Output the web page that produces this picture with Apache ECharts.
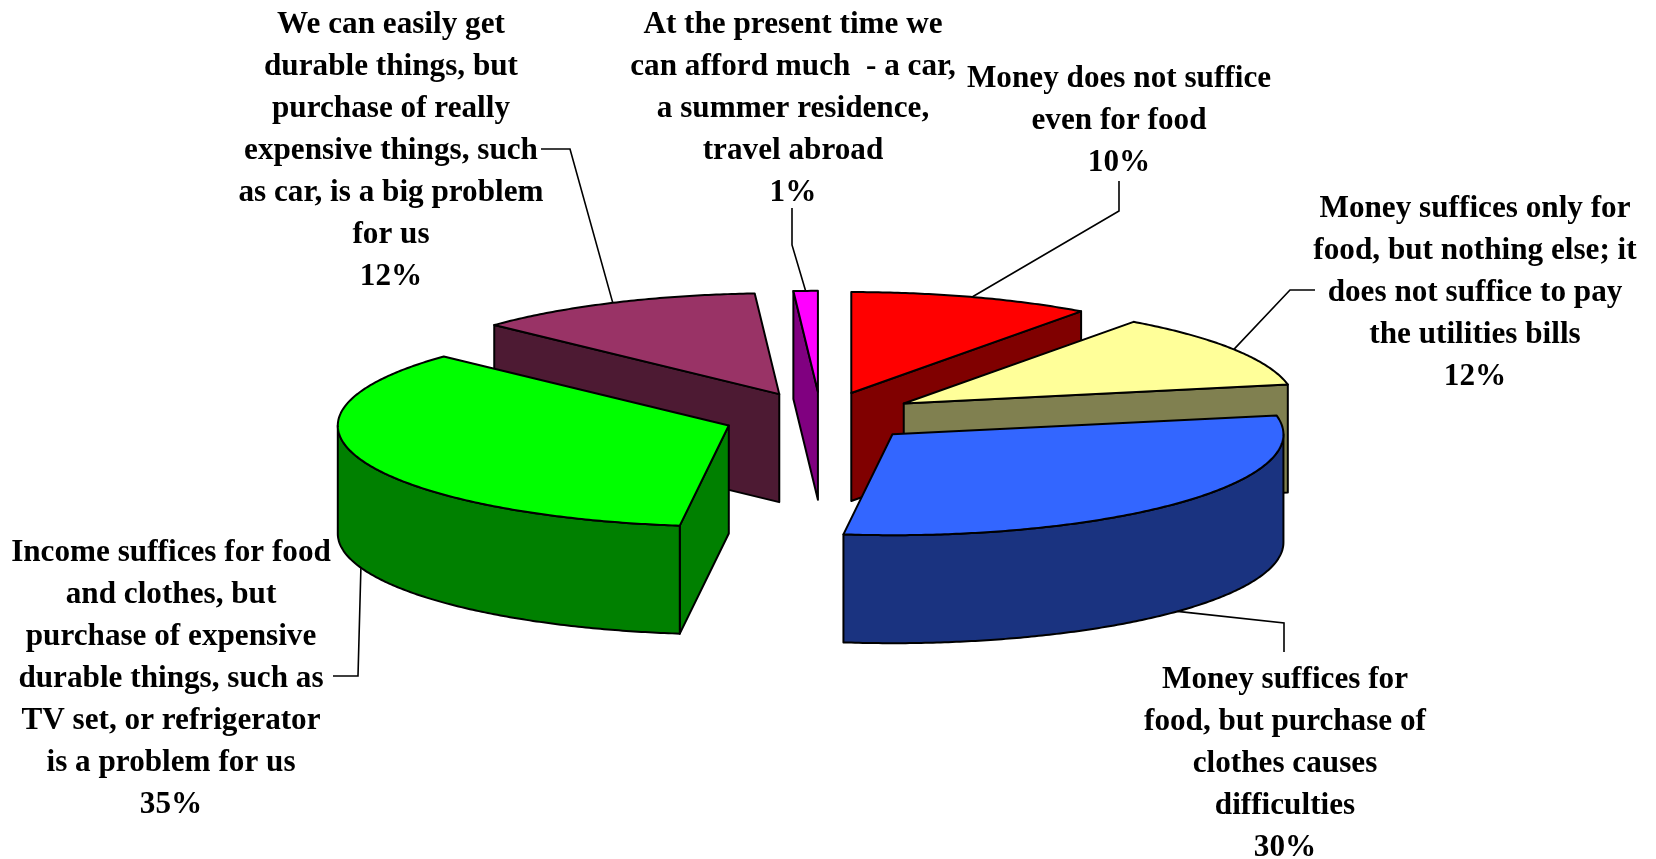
<!DOCTYPE html>
<html>
<head>
<meta charset="utf-8">
<style>html,body{margin:0;padding:0;background:#fff}#c{width:1656px;height:859px}</style>
<script src="https://cdn.jsdelivr.net/npm/echarts@6/dist/echarts.min.js"></script>
</head>
<body>
<div id="c"></div>
<script>
// --- data, clockwise from 12 o'clock ---
const categories = [
  "Money does not suffice\neven for food",
  "Money suffices only for\nfood, but nothing else; it\ndoes not suffice to pay\nthe utilities bills",
  "Money suffices for\nfood, but purchase of\nclothes causes\ndifficulties",
  "Income suffices for food\nand clothes, but\npurchase of expensive\ndurable things, such as\nTV set, or refrigerator\nis a problem for us",
  "We can easily get\ndurable things, but\npurchase of really\nexpensive things, such\nas car, is a big problem\nfor us",
  "At the present time we\ncan afford much  - a car,\na summer residence,\ntravel abroad"
];
const values = [10, 12, 30, 35, 12, 1];

// --- styles ---
const topColors  = ["#FF0000", "#FFFF99", "#3366FF", "#00FF00", "#993366", "#FF00FF"];
const wallColors = ["#800000", "#808050", "#1A3380", "#008000", "#4D1A33", "#800080"];
const drawOrder  = [4, 5, 0, 1, 3, 2];

// --- layout of the projected pie and the labels ---
const pie = { cx: 821, cy: 417, r: 391, tilt: 0.258, explode: 98, depth: 108 };
const labelCentre = [[1119, 58], [1475, 188], [1285, 659], [171, 532], [391, 4], [793, 4]];
const leaderStart = [[1119, 181], [1315, 290], [1284, 652], [333, 676], [541, 149], [792, 208]];
const leaderElbow = [[1119, 211], [1290, 290], [1284, 623], [358, 676], [570, 149], [792, 245]];
const leaderOnWallBottom = [false, false, true, true, false, false];
const font = { family: "Liberation Serif", size: 32, lineHeight: 41.9, scaleX: 0.975 };

const total = values.reduce((a, b) => a + b, 0);
const deg = v => v / total * 2 * Math.PI;
const angles = [];
values.reduce((acc, v, i) => { angles[i] = [deg(acc), deg(acc + v)]; return acc + v; }, 0);

function apex(i) {
  const m = (angles[i][0] + angles[i][1]) / 2;
  return [pie.cx + pie.explode * Math.sin(m), pie.cy - pie.explode * pie.tilt * Math.cos(m)];
}
function rim(i, a, drop) {
  const c = apex(i);
  return [c[0] + pie.r * Math.sin(a), c[1] - pie.r * pie.tilt * Math.cos(a) + (drop || 0)];
}
function arc(i, a0, a1, drop) {
  const pts = [], n = Math.max(2, Math.ceil((a1 - a0) / 0.01));
  for (let k = 0; k <= n; k++) pts.push(rim(i, a0 + (a1 - a0) * k / n, drop));
  return pts;
}
const edge = { stroke: "#000", lineWidth: 2, lineJoin: "round" };

function slice(i) {
  const [a0, a1] = angles[i];
  const c = apex(i), kids = [];
  const poly = (points, fill) => kids.push({ type: "polygon", shape: { points }, style: Object.assign({ fill }, edge) });
  const low = p => [p[0], p[1] + pie.depth];
  // radial cut faces turned to the viewer
  if (Math.sin(a0) < 0) poly([c, rim(i, a0), low(rim(i, a0)), low(c)], wallColors[i]);
  if (Math.sin(a1) > 0) poly([c, rim(i, a1), low(rim(i, a1)), low(c)], wallColors[i]);
  // outer wall on the front half
  const f0 = Math.max(a0, Math.PI / 2), f1 = Math.min(a1, 3 * Math.PI / 2);
  if (f1 > f0) poly(arc(i, f0, f1).concat(arc(i, f0, f1, pie.depth).reverse()), wallColors[i]);
  // top face
  poly([c].concat(arc(i, a0, a1)), topColors[i]);
  return { type: "group", children: kids };
}

function leader(i) {
  const m = (angles[i][0] + angles[i][1]) / 2;
  const end = rim(i, m, leaderOnWallBottom[i] ? pie.depth : 0);
  return {
    type: "group",
    children: [
      { type: "polyline", shape: { points: [leaderStart[i], leaderElbow[i], end] },
        style: { stroke: "#000", lineWidth: 1.6, fill: null } },
      { type: "text", x: labelCentre[i][0], y: labelCentre[i][1], scaleX: font.scaleX,
        style: { text: categories[i] + "\n" + values[i] + "%", fill: "#000", align: "center", verticalAlign: "top",
                 fontFamily: font.family, fontWeight: "bold", fontSize: font.size, lineHeight: font.lineHeight } }
    ]
  };
}

const chart = echarts.init(document.getElementById("c"), null, { renderer: "canvas" });
chart.setOption({
  animation: false,
  backgroundColor: "#fff",
  series: [
    { type: "custom", coordinateSystem: "none", silent: true, z: 2,
      data: drawOrder.map(i => values[i]),
      renderItem: p => slice(drawOrder[p.dataIndex]) },
    { type: "custom", coordinateSystem: "none", silent: true, z: 3,
      data: values,
      renderItem: p => leader(p.dataIndex) }
  ]
});
</script>
</body>
</html>
